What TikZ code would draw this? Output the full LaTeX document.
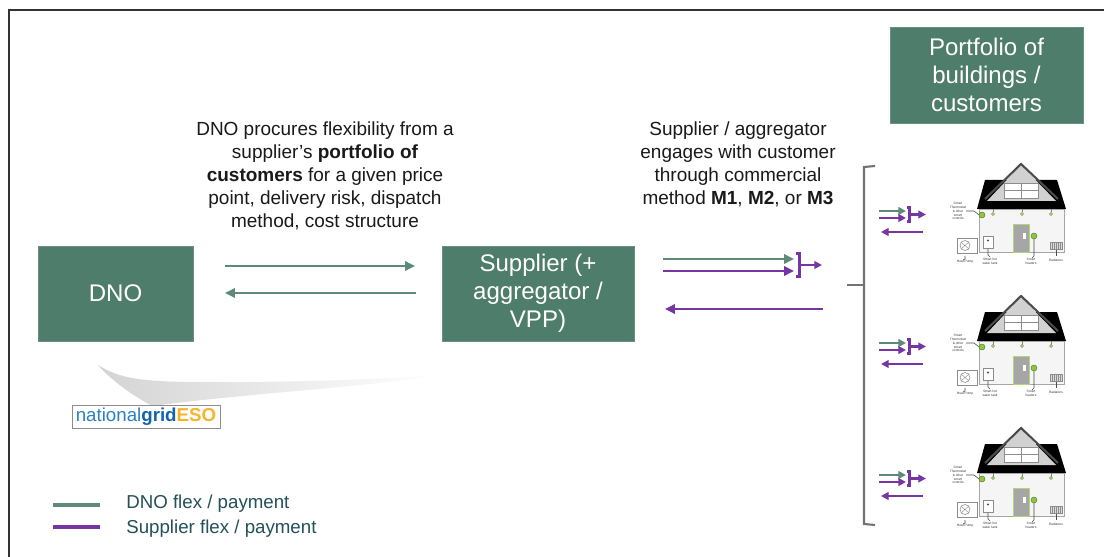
\documentclass[tikz,border=0pt]{standalone}
\usepackage{fontspec}
\setmainfont{Liberation Sans}
\usetikzlibrary{arrows.meta}
\definecolor{boxg}{HTML}{4F7D6B}
\definecolor{arrg}{HTML}{5E8A79}
\definecolor{purp}{HTML}{7535A2}
\definecolor{legtxt}{HTML}{24505A}
\definecolor{ngblue}{HTML}{2A80C4}
\definecolor{ngdark}{HTML}{1463AE}
\definecolor{ngyel}{HTML}{F6B42A}
\definecolor{hgreen}{HTML}{8CC63F}
\tikzset{
  gbox/.style={fill=boxg, draw=boxg!85!white, text=white, align=center,
    font=\fontsize{17.1pt}{19.9pt}\selectfont, inner sep=0pt},
  flow/.style={line width=2pt, -{Triangle[length=7pt,width=6.5pt]}},
  sflow/.style={line width=1.9pt, -{Triangle[length=5.5pt,width=5.5pt]}},
  brk/.style={line width=1.9pt, purp},
  desc/.style={align=center, text=black!90, font=\fontsize{13.5pt}{16.4pt}\selectfont, inner sep=0pt},
  legtext/.style={anchor=west, text=legtxt, font=\fontsize{13.3pt}{16pt}\selectfont, inner sep=0pt},
  tiny/.style={font=\fontsize{2.3pt}{2.8pt}\selectfont, align=center, inner sep=0pt, text=black!80},
  house/.pic={
    % roof
    \fill[black] (-44,45) -- (-36,16) -- (36,16) -- (45,45) -- cycle;
    % gable
    \fill[black!18] (-34,37) -- (0,1) -- (35,37) -- cycle;
    \draw[black!70, line width=1.5pt, line join=round] (-36,35) -- (0,0) -- (37,35);
    \draw[black!45, fill=white, line width=0.5pt] (-17,19) rectangle (17,34);
    \draw[black!45, line width=0.5pt] (0,19) -- (0,34) (-17,26.5) -- (17,26.5);
    % wall
    \draw[black!35, fill=black!4, line width=0.4pt] (-42,45) rectangle (43,88);
    % door
    \draw[fill=black!35, draw=hgreen!70, line width=0.6pt] (-8,60) rectangle (8,88);
    \fill[white] (2,69) rectangle (5,75);
    % bulbs
    \foreach \bx in {-28,1,30}{
      \draw[black!50, line width=0.3pt] (\bx,45) -- (\bx,48.5);
      \draw[hgreen!80!black, fill=hgreen!40, line width=0.3pt] (\bx,50) circle (1.5);
    }
    % thermostat
    \draw[black!70, line width=0.4pt] (-55,47) -- (-47,47) -- (-42,51);
    \draw[hgreen!60!black, fill=hgreen, line width=0.3pt] (-39,51) circle (3);
    % smart heater
    \draw[black!70, line width=0.4pt] (13,75) -- (13,92) -- (11,94);
    \draw[hgreen!60!black, fill=hgreen, line width=0.3pt] (13,72) circle (3);
    % water tank
    \draw[black!70, line width=0.4pt] (-33,84) -- (-33,91) -- (-31,93);
    \draw[black!45, fill=white, line width=0.4pt] (-38,72) rectangle (-28,84);
    \fill[black!70] (-33,76.5) circle (1.2);
    % heat pump
    \draw[black!70, line width=0.4pt] (-56,92) -- (-56,95) -- (-58,96);
    \draw[black!45, fill=white, line width=0.4pt] (-64,74) rectangle (-44,89);
    \draw[black!45, line width=0.4pt] (-56,81.5) circle (5);
    \draw[black!45, line width=0.3pt] (-60,78) -- (-52,85) (-60,85) -- (-52,78);
    % radiator
    \draw[black!70, line width=0.4pt] (35,85) -- (35,92);
    \draw[black!45, fill=black!15, line width=0.3pt] (29,78) rectangle (41,85);
    \foreach \rx in {31,33,35,37,39}{\draw[black!45, line width=0.25pt] (\rx,78) -- (\rx,85);}
    % labels
    \node[tiny] (lth) at (-63,47) {Smart\\Thermostat\\\& other\\smart\\controls};
    \node[tiny] (lhp) at (-56,98) {Heat Pump};
    \node[tiny] (lwt) at (-31,97.5) {Smart hot\\water tank};
    \node[tiny] (lsh) at (10,97.5) {Smart\\heaters};
    \node[tiny] (lrd) at (35,96) {Radiators};
  }
}
\begin{document}
\begin{tikzpicture}[x=0.025cm, y=-0.025cm]
\useasboundingbox (0,0) rectangle (1104,557);
\fill[white] (0,0) rectangle (1104,557);
% frame
\draw[black!80, line width=1pt] (9,557) -- (9,10) -- (1104,10);

% swoosh
\shade[left color=black!17, right color=white, draw=none]
  (98,365) .. controls (118,378) and (140,381) .. (185,382)
  .. controls (300,383) and (400,378) .. (438,375)
  .. controls (380,386) and (250,393) .. (152,406)
  .. controls (132,395) and (112,381) .. (98,365) -- cycle;

% boxes
\node[gbox, minimum width=3.875cm, minimum height=2.375cm] (dno) at (115.5,293.5) {DNO};
\node[gbox, minimum width=4.8cm, minimum height=2.375cm] (sup) at (538,293.5) {Supplier (+\\aggregator /\\VPP)};
\node[gbox, minimum width=4.825cm, minimum height=2.4cm] (port) at (986.5,75) {Portfolio of\\buildings /\\customers};

% description texts
\node[desc] (t1) at (325,176) {DNO procures flexibility from a\\supplier’s \textbf{portfolio of}\\\textbf{customers} for a given price\\point, delivery risk, dispatch\\method, cost structure};
\node[desc] (t2) at (738,164.5) {Supplier / aggregator\\engages with customer\\through commercial\\method \textbf{M1}, \textbf{M2}, or \textbf{M3}};

% DNO <-> supplier arrows
\coordinate (a1s) at (225,266); \coordinate (a1e) at (415,266);
\coordinate (a2s) at (416,293); \coordinate (a2e) at (225,293);
\draw[flow, arrg] (a1s) -- (a1e);
\draw[flow, arrg] (a2s) -- (a2e);

% supplier -> portfolio arrows
\coordinate (b1s) at (663,259); \coordinate (b1e) at (794,259);
\coordinate (b2s) at (663,271); \coordinate (b2e) at (794,271);
\coordinate (b3s) at (800,265); \coordinate (b3e) at (822,265);
\coordinate (b4s) at (823,309); \coordinate (b4e) at (665,309);
\draw[flow, arrg] (b1s) -- (b1e);
\draw[flow, purp] (b2s) -- (b2e);
\draw[brk] (796,253.5) -- (799.5,253.5) -- (799.5,276.5) -- (796,276.5);
\draw[sflow, purp] (b3s) -- (b3e);
\draw[flow, purp] (b4s) -- (b4e);

% big bracket
\draw[black!55, line width=1.5pt] (875,166) -- (864,167) -- (864,524) -- (875,525);
\draw[black!55, line width=1.5pt] (847,285) -- (864,285);

% houses and small arrows
\foreach \i/\dy in {1/0, 2/132, 3/264}{
  \pic (h\i) at (1021,164+\dy) {house};
  \coordinate (c\i a) at (879,211+\dy); \coordinate (c\i b) at (906,211+\dy);
  \coordinate (c\i c) at (879,218+\dy); \coordinate (c\i d) at (906,218+\dy);
  \coordinate (c\i e) at (910,214.5+\dy); \coordinate (c\i f) at (926,214.5+\dy);
  \coordinate (c\i g) at (923,232+\dy); \coordinate (c\i h) at (881,232+\dy);
  \draw[sflow, arrg] (c\i a) -- (c\i b);
  \draw[sflow, purp] (c\i c) -- (c\i d);
  \draw[purp, line width=1.6pt] (907,207.5+\dy) -- (909.5,207.5+\dy) -- (909.5,221.5+\dy) -- (907,221.5+\dy);
  \draw[sflow, purp] (c\i e) -- (c\i f);
  \draw[sflow, purp] (c\i g) -- (c\i h);
}

% logo
\node[draw=black!45, line width=0.6pt, minimum width=3.7cm, minimum height=0.575cm, inner sep=0pt,
  font=\fontsize{13.3pt}{15pt}\selectfont] (logo) at (146,416.5)
  {\textcolor{ngblue}{national}\textcolor{ngdark}{\textbf{grid}}\textcolor{ngyel}{\textbf{ESO}}};

% legend
\coordinate (l1s) at (53,505); \coordinate (l1e) at (100,505);
\coordinate (l2s) at (53,527); \coordinate (l2e) at (100,527);
\draw[arrg, line width=2.2pt] (l1s) -- (l1e);
\draw[purp, line width=2.2pt] (l2s) -- (l2e);
\node[legtext] (lg1) at (126,504) {DNO flex / payment};
\node[legtext] (lg2) at (126,529) {Supplier flex / payment};
\end{tikzpicture}
\end{document}
